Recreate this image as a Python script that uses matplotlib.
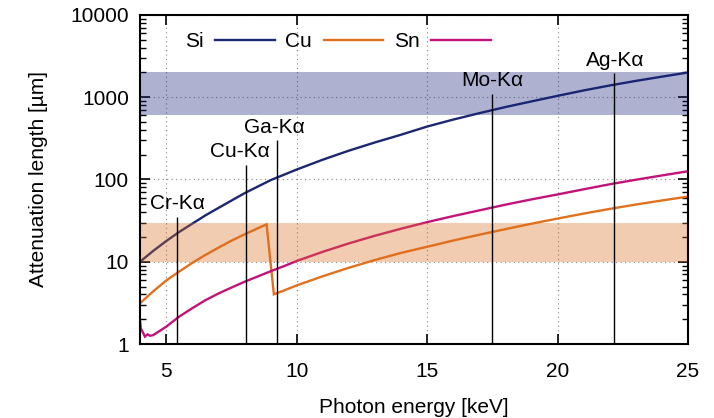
import matplotlib
matplotlib.use("Agg")
import matplotlib.pyplot as plt
from matplotlib.ticker import FixedLocator, LogLocator, NullFormatter, FuncFormatter

plt.rcParams['font.family'] = ['Liberation Sans', 'DejaVu Sans']

# Attenuation length [um] versus photon energy [keV]
si_energy = [4, 4.5, 5, 5.5, 6, 6.5, 7, 8, 9, 10, 11, 12, 13, 14, 15, 16,
             17, 18, 19, 20, 21, 22, 23, 24, 25]
si_length = [10.0, 13.5, 17.8, 23.0, 29.0, 36.5, 45.0, 68.0, 98.0, 132.0,
             174.0, 224.0, 282.0, 350.0, 440.0, 535.0, 640.0, 760.0, 890.0,
             1040.0, 1210.0, 1390.0, 1580.0, 1780.0, 2000.0]

cu_energy = [4, 4.5, 5, 5.5, 6, 6.5, 7, 7.5, 8, 8.5, 8.85, 9.13, 9.5, 10,
             11, 12, 13, 14, 15, 16, 17, 18, 19, 20, 21, 22, 23, 24, 25]
cu_length = [3.13, 4.35, 5.9, 7.6, 9.66, 12.07, 14.8, 18.0, 21.5, 25.4,
             28.5, 4.02, 4.45, 5.15, 6.66, 8.45, 10.5, 12.8, 15.2, 18.1,
             21.3, 24.9, 29.0, 33.5, 38.5, 43.9, 49.6, 55.6, 62.0]

sn_energy = [4.0, 4.03, 4.19, 4.29, 4.38, 4.5, 5.0, 5.5, 6.0, 6.5, 7.0, 7.5,
             8.0, 8.5, 9.0, 9.5, 10, 11, 12, 13, 14, 15, 16, 17, 18, 19, 20,
             21, 22, 23, 24, 25]
sn_length = [1.96, 1.55, 1.23, 1.31, 1.26, 1.28, 1.62, 2.15, 2.72, 3.4,
             4.1, 4.85, 5.7, 6.6, 7.65, 8.8, 10.2, 13.2, 16.7, 20.7, 25.2,
             30.3, 35.9, 42.1, 49.4, 57.3, 65.8, 76.0, 87.5, 99.3, 112.0,
             126.0]

series_names = ['Si', 'Cu', 'Sn']
series_colors = ['#1b2771', '#e2711d', '#c2137a']

# Characteristic X-ray lines: energy, label, top of marker line
line_energy = [5.41, 8.05, 9.25, 17.48, 22.16]
line_label = ['Cr-Kα', 'Cu-Kα', 'Ga-Kα', 'Mo-Kα', 'Ag-Kα']
line_top = [35, 150, 300, 1090, 1960]
line_label_dx = [0.5, -4.0, -2.0, 0.3, 0.7]

# Shaded ranges of attenuation length
band_low = [600, 10]
band_high = [2000, 30]
band_colors = ['#182379', '#da6d1d']

FS = 15

fig = plt.figure(figsize=(7.14, 4.18), dpi=100)
ax = fig.add_axes([140 / 714, 1 - 344 / 418, 548 / 714, 329 / 418])

energies = [si_energy, cu_energy, sn_energy]
lengths = [si_length, cu_length, sn_length]
handles = []
for e, v, name, c in zip(energies, lengths, series_names, series_colors):
    h, = ax.plot(e, v, color=c, lw=1.7, label=name, zorder=2,
                 solid_joinstyle='miter')
    handles.append(h)

for lo, hi, c in zip(band_low, band_high, band_colors):
    ax.axhspan(lo, hi, color=c, alpha=0.35, lw=0, zorder=2.2)

ax.vlines(line_energy, 1, line_top, colors='black', lw=1.0, zorder=2.3)
for e, lab, top, dx in zip(line_energy, line_label, line_top, line_label_dx):
    ax.annotate(lab, xy=(e, top), xytext=(dx, 9.5), textcoords='offset points',
                ha='center', va='center', fontsize=FS, zorder=3)

ax.set_yscale('log')
ax.set_xlim(4, 25)
ax.set_ylim(1, 10000)

ax.xaxis.set_major_locator(FixedLocator([5, 10, 15, 20, 25]))
ax.yaxis.set_major_locator(LogLocator(base=10, numticks=10))
ax.yaxis.set_minor_locator(LogLocator(base=10, subs=range(2, 10), numticks=20))
ax.yaxis.set_minor_formatter(NullFormatter())
ax.yaxis.set_major_formatter(FuncFormatter(lambda v, p: '%g' % v))

ax.tick_params(which='major', direction='in', length=7, width=1.2,
               top=True, right=True, labelsize=FS)
ax.tick_params(axis='x', which='major', pad=13)
ax.tick_params(axis='y', which='major', pad=8)
ax.tick_params(which='minor', direction='in', length=4.5, width=1.0,
               top=False, right=True)
ax.tick_params(axis='x', which='minor', bottom=False, top=False)

ax.grid(True, which='major', color='#8a8a8a', lw=0.8, linestyle=(0, (1, 3)))
ax.set_axisbelow(True)
for s in ax.spines.values():
    s.set_linewidth(1.5)
    s.set_zorder(4)

ax.set_xlabel('Photon energy [keV]', fontsize=FS, labelpad=12)
ax.set_ylabel('Attenuation length [µm]', fontsize=FS, labelpad=16)

fs_px = FS * 100 / 72
ax.legend(handles, series_names, ncol=3, markerfirst=False, frameon=False,
          loc='center left', bbox_to_anchor=((185 - 140) / 548, 1 - (41.7 - 15) / 329),
          borderpad=0, borderaxespad=0, fontsize=FS,
          handlelength=59.5 / fs_px, handletextpad=11.5 / fs_px,
          columnspacing=10.7 / fs_px)

fig.savefig('out.png', dpi=100)
